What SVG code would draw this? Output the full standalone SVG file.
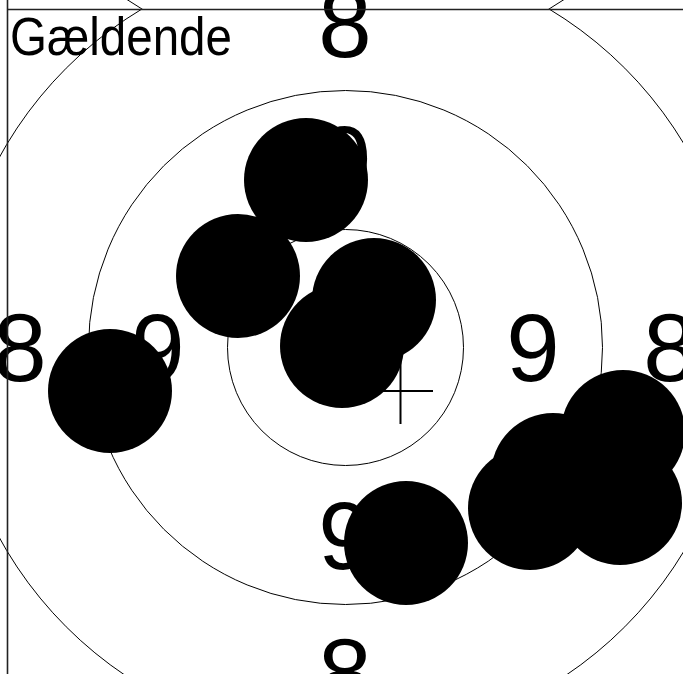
<svg xmlns="http://www.w3.org/2000/svg" width="683" height="674" viewBox="0 0 683 674">
<style>
.ring{fill:none;stroke:#000;stroke-width:1}
.num{font-family:"Liberation Sans",Arial,sans-serif;font-size:96px;fill:#000;text-anchor:middle}
.shot{fill:#000}
.frame{stroke:#222;stroke-width:1.6;fill:none}
</style>
<defs>
<clipPath id="below"><rect x="0" y="9" width="683" height="665"/></clipPath>
<clipPath id="above"><rect x="0" y="0" width="683" height="9"/></clipPath>
</defs>
<rect width="683" height="674" fill="#fff"/>
<g id="rings">
<circle class="ring" cx="345.5" cy="347.5" r="395" clip-path="url(#below)"/>
<circle class="ring" cx="345.5" cy="-329.5" r="395" clip-path="url(#above)"/>
<circle class="ring" cx="345.5" cy="347.5" r="257"/>
<circle class="ring" cx="345.5" cy="347.5" r="118"/>
</g>
<g id="labels">
<text class="num" x="345" y="57">8</text>
<text class="num" x="345" y="706">8</text>
<text class="num" x="20" y="381">8</text>
<text class="num" x="670" y="381">8</text>
<text class="num" x="158" y="381">9</text>
<text class="num" x="533" y="381">9</text>
<text class="num" x="345" y="193">9</text>
<text class="num" x="345" y="569">9</text>
</g>
<g id="shots">
<circle class="shot" cx="110" cy="391" r="62"/>
<circle class="shot" cx="306" cy="180" r="62"/>
<circle class="shot" cx="238" cy="276" r="62"/>
<circle class="shot" cx="374" cy="300" r="62"/>
<circle class="shot" cx="342" cy="346" r="62"/>
<circle class="shot" cx="406" cy="543" r="62"/>
<circle class="shot" cx="623" cy="432" r="62"/>
<circle class="shot" cx="553" cy="475" r="62"/>
<circle class="shot" cx="530" cy="508" r="62"/>
<circle class="shot" cx="620" cy="503" r="62"/>
</g>
<g id="center-mark" stroke="#000" stroke-width="2">
<line x1="368" y1="391" x2="433" y2="391"/>
<line x1="400.5" y1="358" x2="400.5" y2="424"/>
</g>
<g id="frame">
<line class="frame" x1="7.5" y1="0" x2="7.5" y2="674"/>
<line class="frame" x1="7.5" y1="9.5" x2="683" y2="9.5"/>
</g>
<g id="title">
<text x="10" y="55" font-family="Liberation Sans, Arial, sans-serif" font-size="54" textLength="222" lengthAdjust="spacingAndGlyphs" fill="#000">Gældende</text>
</g>
</svg>
